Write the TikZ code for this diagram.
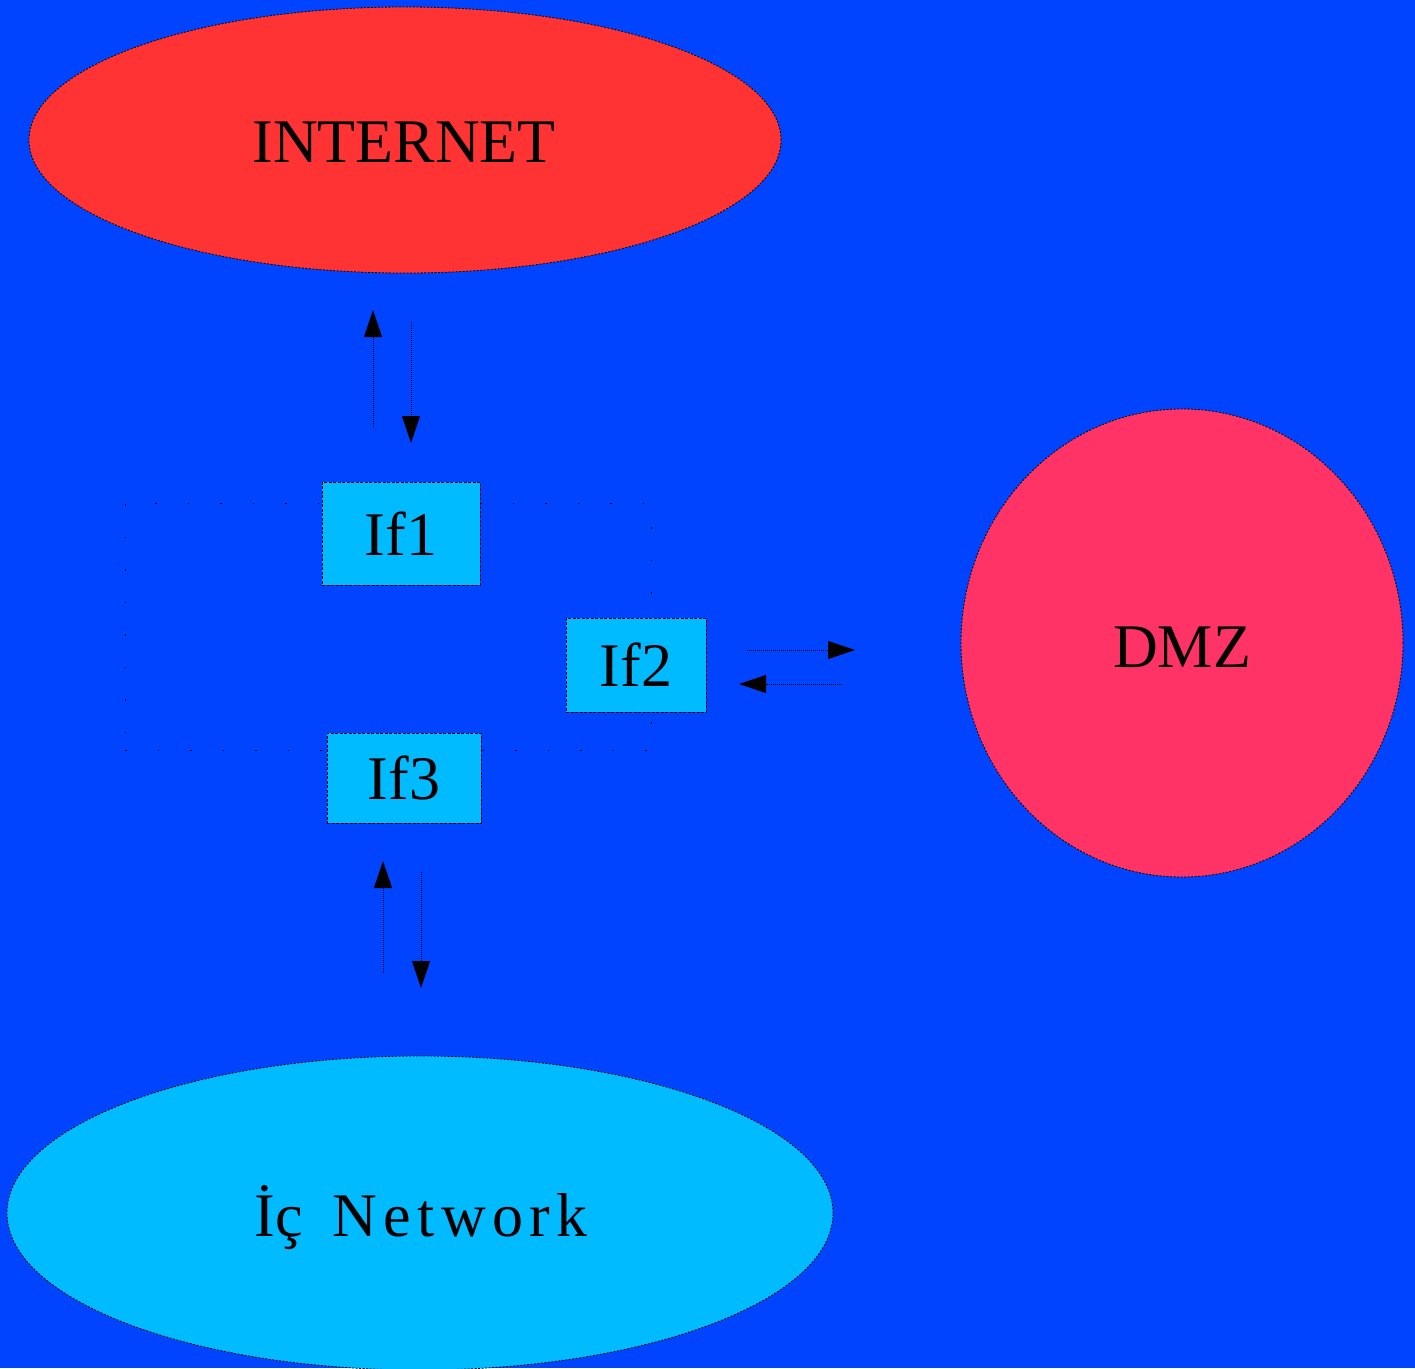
\documentclass[tikz,border=0pt]{standalone}
\usepackage{fontspec}
\setmainfont{Liberation Serif}
\usetikzlibrary{shapes.geometric,arrows.meta}

\definecolor{bgblue}{HTML}{0044FF}
\definecolor{netred}{HTML}{FF3333}
\definecolor{dmzred}{HTML}{FF3366}
\definecolor{lancyan}{HTML}{00BBFF}

\tikzset{
	zone/.style={ellipse, draw=black, line width=0.8pt, dash pattern=on 2pt off 1.5pt, inner sep=0pt},
	iface/.style={rectangle, draw=black, fill=lancyan, line width=0.8pt, dash pattern=on 3pt off 1.5pt, inner sep=0pt},
	flow/.style={line width=0.9pt, dash pattern=on 1pt off 1pt, -{Triangle[length=27pt,width=18pt]}},
	big/.style={font=\fontsize{62}{62}\selectfont}
}

\begin{document}
\begin{tikzpicture}[x=1pt,y=-1pt]
	\useasboundingbox (0,0) rectangle (1415,1368);
	\fill[bgblue] (0,0) rectangle (1415,1368);

	% zones
	\node (internet) [zone, fill=netred, minimum width=752pt, minimum height=266pt] at (405,140) {};
	\node (dmz) [zone, fill=dmzred, minimum width=442pt, minimum height=468pt] at (1182,643) {};
	\node (lan) [zone, fill=lancyan, minimum width=826pt, minimum height=314pt] at (420,1213) {};
	\node (internettext) [big] at (404,142) {INTERNET};
	\node (dmztext) [big] at (1182,647) {DMZ};
	\node (lantext) [big] at (421,1217) {İç\hspace{30pt}\addfontfeature{LetterSpace=10}Network};

	% firewall
	\node (fw) [draw=black, line width=1pt, dash pattern=on 1.5pt off 31pt, minimum width=526pt, minimum height=247pt] at (388,626.5) {};
	\node (if1) [iface, big, minimum width=158pt, minimum height=103pt] at (401,533.5) {If1};
	\node (if2) [iface, big, minimum width=140pt, minimum height=94pt] at (636,665) {If2};
	\node (if3) [iface, big, minimum width=154pt, minimum height=90pt] at (404,778) {If3};

	% traffic
	\coordinate (a1) at (373,428);
	\coordinate (a2) at (373,310);
	\coordinate (b1) at (411,322);
	\coordinate (b2) at (411,443);
	\coordinate (c1) at (747,650);
	\coordinate (c2) at (855,650);
	\coordinate (d1) at (842,684);
	\coordinate (d2) at (739,684);
	\coordinate (e1) at (383,973);
	\coordinate (e2) at (383,861);
	\coordinate (f1) at (421,872);
	\coordinate (f2) at (421,988);
	\draw[flow] (a1) -- (a2);
	\draw[flow] (b1) -- (b2);
	\draw[flow] (c1) -- (c2);
	\draw[flow] (d1) -- (d2);
	\draw[flow] (e1) -- (e2);
	\draw[flow] (f1) -- (f2);
\end{tikzpicture}
\end{document}
